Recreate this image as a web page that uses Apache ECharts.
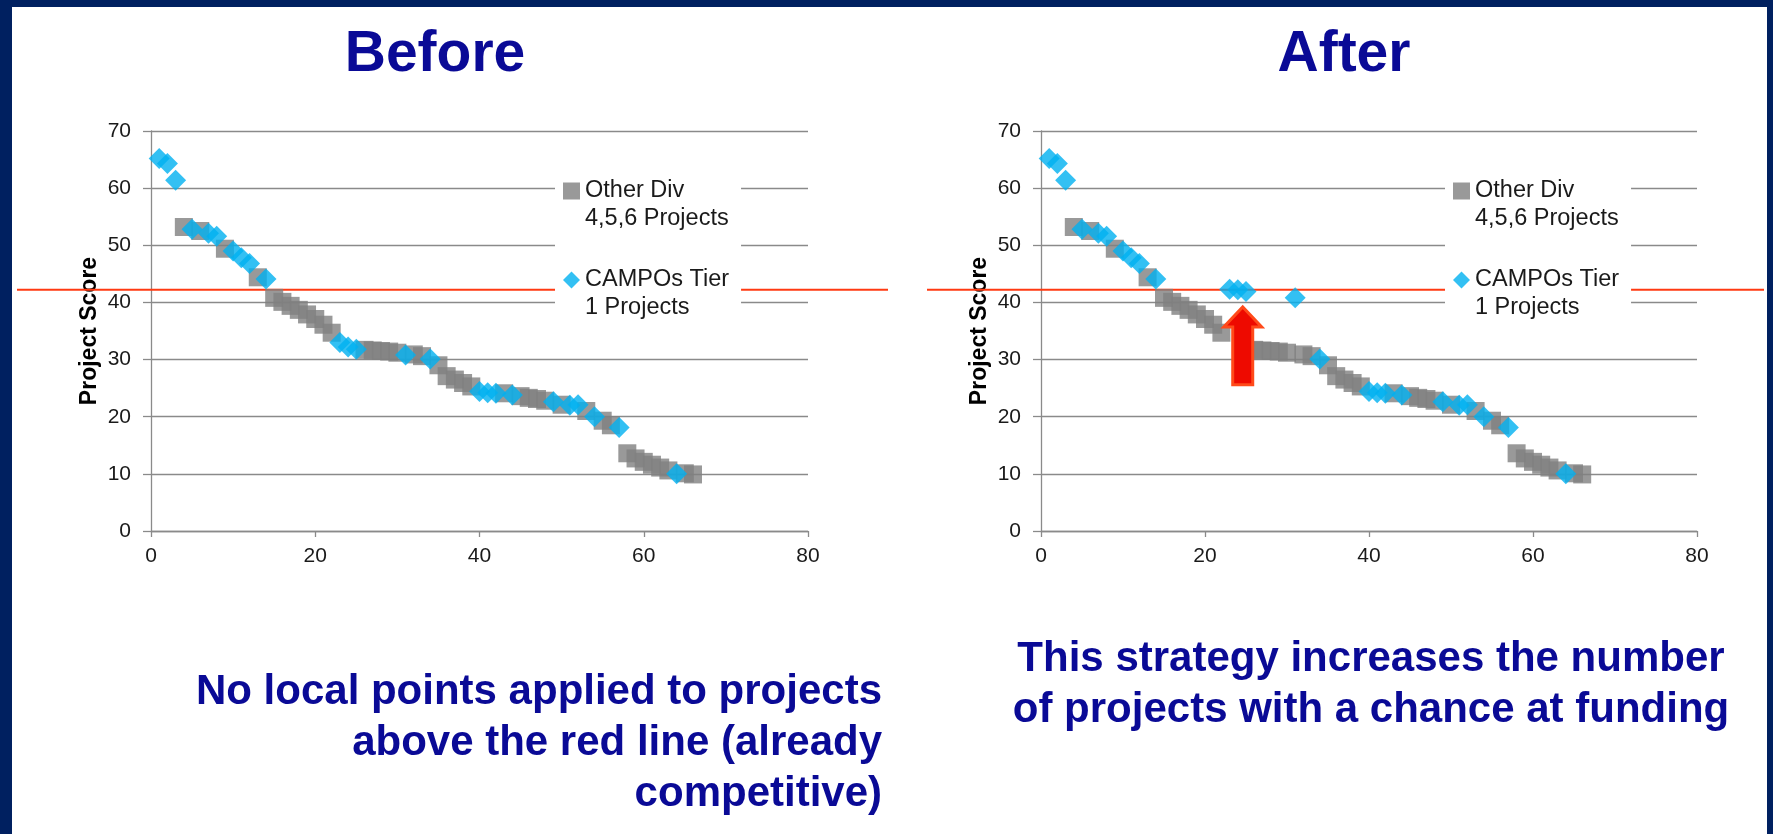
<!DOCTYPE html>
<html><head><meta charset="utf-8">
<script src="https://cdn.jsdelivr.net/npm/echarts@6/dist/echarts.min.js"></script>
<style>
html,body{margin:0;padding:0;background:#fff;overflow:hidden;}
#chart{position:absolute;left:0;top:0;width:1773px;height:834px;}
.bd{position:absolute;background:#002060;}
</style></head><body>
<div id="chart"></div>
<div class="bd" style="left:0;top:0;width:12px;height:834px"></div>
<div class="bd" style="left:0;top:0;width:1773px;height:7px"></div>
<div class="bd" style="right:0;top:0;width:6px;height:834px"></div>
<script>
// ---- data ----
const otherRank  = [4, 6, 9, 13, 15, 16, 17, 18, 19, 20, 21, 22, 26, 27, 28, 29, 30, 32, 33, 35, 36, 37, 38, 39, 43, 45, 46, 47, 48, 50, 53, 55, 56, 58, 59, 60, 61, 62, 63, 65, 66];
const otherScore = [53.2, 52.5, 49.4, 44.4, 40.8, 40.1, 39.4, 38.7, 37.9, 37.1, 36.1, 34.7, 31.7, 31.6, 31.5, 31.4, 31.2, 30.9, 30.6, 29.0, 27.1, 26.5, 25.9, 25.3, 24.1, 23.6, 23.3, 23.1, 22.8, 22.1, 21.0, 19.3, 18.5, 13.6, 12.7, 12.1, 11.6, 11.1, 10.6, 10.1, 9.9];
const campoRank        = [1, 2, 3, 5, 7, 8, 10, 11, 12, 14, 23, 24, 25, 31, 34, 40, 41, 42, 44, 49, 51, 52, 54, 57, 64];
const campoScoreBefore = [65.2, 64.3, 61.4, 52.8, 52.1, 51.6, 49.0, 47.8, 46.8, 44.1, 33.0, 32.2, 31.8, 30.8, 30.1, 24.4, 24.2, 24.1, 23.8, 22.6, 22.0, 22.1, 20.0, 18.1, 10.0];
const campoScoreAfter  = [65.2, 64.3, 61.4, 52.8, 52.1, 51.6, 49.0, 47.8, 46.8, 44.1, 42.3, 42.2, 41.9, 40.8, 30.1, 24.4, 24.2, 24.1, 23.8, 22.6, 22.0, 22.1, 20.0, 18.1, 10.0];
const seriesNames = ['Other Div 4,5,6 Projects', 'CAMPOs Tier 1 Projects'];
const legendLines = {'Other Div 4,5,6 Projects': ['Other Div', '4,5,6 Projects'], 'CAMPOs Tier 1 Projects': ['CAMPOs Tier', '1 Projects']};
const panelTitles = ['Before', 'After'];
const xRange = {min: 0, max: 80, interval: 20};
const yRange = {min: 0, max: 70, interval: 10};
const yAxisTitle = 'Project Score';
const threshold = 42.2;
const arrowData = {x: 24.6, from: 25.6, to: 39.2};
const noteLeft = ['No local points applied to projects', 'above the red line (already', 'competitive)'];
const noteRight = ['This strategy increases the number', 'of projects with a chance at funding'];

// ---- chart ----
const FONT = '"Liberation Sans", Arial, sans-serif';
const NAVY = '#0a0a96';
const GRIDC = '#8a8a8a';
const chart = echarts.init(document.getElementById('chart'), null, {renderer: 'canvas'});
const pairs = (xs, ys) => xs.map((x, i) => [x, ys[i]]);
const grids = [{left: 151, top: 131, width: 657, height: 400}, {left: 1041, top: 131, width: 656, height: 400}];

function xAx(i) {
  return {gridIndex: i, type: 'value', min: xRange.min, max: xRange.max, interval: xRange.interval,
    axisLine: {show: true, lineStyle: {color: GRIDC, width: 1.3}},
    axisTick: {show: true, length: 6, lineStyle: {color: GRIDC, width: 1.3}},
    axisLabel: {fontFamily: FONT, fontSize: 21, color: '#1a1a1a', margin: 15},
    splitLine: {show: false}};
}
function yAx(i) {
  return {gridIndex: i, type: 'value', min: yRange.min, max: yRange.max, interval: yRange.interval,
    name: yAxisTitle, nameLocation: 'middle', nameGap: 50,
    nameTextStyle: {fontFamily: FONT, fontSize: 23, fontWeight: 'bold', color: '#000'},
    axisLine: {show: true, lineStyle: {color: GRIDC, width: 1.3}},
    axisTick: {show: true, length: 8, lineStyle: {color: GRIDC, width: 1.3}},
    axisLabel: {fontFamily: FONT, fontSize: 21, color: '#1a1a1a', margin: 20},
    splitLine: {show: true, lineStyle: {color: GRIDC, width: 1.3}}};
}
function legend(i, left) {
  return {show: true, orient: 'vertical', left: left, top: 145, itemGap: 5,
    padding: [4, 12, 4, 8], backgroundColor: '#ffffff', itemWidth: 17, itemHeight: 17,
    selectedMode: false,
    data: [{name: seriesNames[0], icon: 'rect'}, {name: seriesNames[1], icon: 'diamond'}],
    formatter: n => '\n' + legendLines[n].join('\n'),
    textStyle: {fontFamily: FONT, fontSize: 23.5, color: '#1a1a1a', lineHeight: 28}};
}
function series(i, campoScores) {
  return [
    {name: seriesNames[0], type: 'scatter', xAxisIndex: i, yAxisIndex: i, symbol: 'rect', symbolSize: 18,
      itemStyle: {color: '#7f7f7f'}, data: pairs(otherRank, otherScore), z: 2},
    {name: seriesNames[1], type: 'scatter', xAxisIndex: i, yAxisIndex: i, symbol: 'diamond', symbolSize: 21,
      itemStyle: {color: '#00b0f0'}, data: pairs(campoRank, campoScores), z: 3}
  ];
}

chart.setOption({
  animation: false,
  backgroundColor: '#ffffff',
  grid: grids,
  xAxis: [xAx(0), xAx(1)],
  yAxis: [yAx(0), yAx(1)],
  legend: [legend(0, 555), legend(1, 1445)],
  series: [...series(0, campoScoreBefore), ...series(1, campoScoreAfter)]
});

// overlay graphics positioned from data coordinates
const yL = chart.convertToPixel({gridIndex: 0}, [0, threshold])[1];
const yR = chart.convertToPixel({gridIndex: 1}, [0, threshold])[1];
const aTop = chart.convertToPixel({gridIndex: 1}, [arrowData.x, arrowData.to]);
const aBot = chart.convertToPixel({gridIndex: 1}, [arrowData.x, arrowData.from]);
const cx = aTop[0], yt = aTop[1], yb = aBot[1];
const sh = 10, hh = 19, hl = 20;
const txt = (text, x, y, size, align, lh) => ({type: 'text', x: x, y: y, z: 10, silent: true,
  style: {text: text, fontFamily: FONT, fontSize: size, fontWeight: 'bold', fill: NAVY, align: align,
    verticalAlign: 'top', lineHeight: lh}});

chart.setOption({
  graphic: [
    {type: 'line', z: 1, silent: true, shape: {x1: 17, y1: yL, x2: 888, y2: yL}, style: {stroke: '#ff3a12', lineWidth: 2}},
    {type: 'line', z: 1, silent: true, shape: {x1: 927, y1: yR, x2: 1764, y2: yR}, style: {stroke: '#ff3a12', lineWidth: 2}},
    {type: 'polygon', z: 5, silent: true,
      shape: {points: [[cx - sh, yb], [cx - sh, yt + hl], [cx - hh, yt + hl], [cx, yt], [cx + hh, yt + hl], [cx + sh, yt + hl], [cx + sh, yb]]},
      style: {fill: '#ee0a00', stroke: '#ff4a1a', lineWidth: 3}},
    txt(panelTitles[0], 435, 25, 57, 'center', 60),
    txt(panelTitles[1], 1344, 25, 57, 'center', 60),
    txt(noteLeft.join('\n'), 882, 667, 42, 'right', 51),
    txt(noteRight.join('\n'), 1371, 634, 42, 'center', 51)
  ]
});
</script>
</body></html>
